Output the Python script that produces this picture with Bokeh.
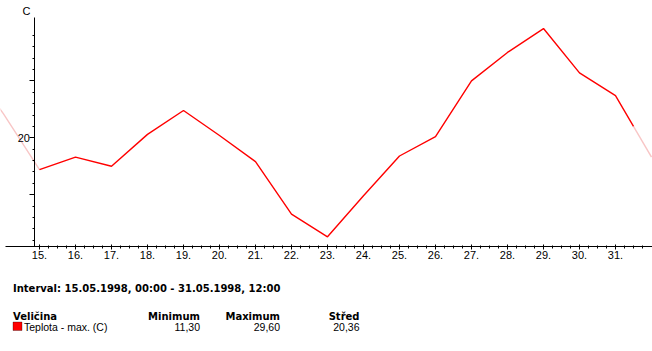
import numpy as np
from bokeh.plotting import figure
from bokeh.models import FixedTicker, LinearAxis, Range1d, Label, BoxAnnotation
from bokeh.embed import file_html
from bokeh.resources import INLINE

# ---- data (day of May 1998, daily maximum temperature in C) ----
days = [13, 14, 15, 16, 17, 18, 19, 20, 21, 22, 23, 24, 25, 26, 27, 28, 29, 30, 31, 32]
tmax = [26.5, 22.1, 17.2, 18.3, 17.5, 20.3, 22.4, 20.2, 17.9, 13.3, 11.3, 14.9,
        18.4, 20.1, 25.0, 27.5, 29.6, 25.7, 23.7, 18.3]
interval_start = 15.0   # 15.05.1998 00:00
interval_end = 31.5     # 31.05.1998 12:00

day_ticks = list(range(15, 32))
day_labels = {d: f"{d}." for d in day_ticks}
day_minor = [15 + 0.25 * i for i in range(68)]

temp_major = [15, 20, 25]
temp_labels = {15: "", 20: "20", 25: ""}
temp_minor = [t for t in range(11, 30) if t not in temp_major]

title_text = "Interval: 15.05.1998, 00:00 - 31.05.1998, 12:00"
col_headers = ["Veličina", "Minimum", "Maximum", "Střed"]
series_name = "Teplota - max. (C)"
stat_values = ["11,30", "29,60", "20,36"]
unit_label = "C"

# ---- figure ----
W, H = 652, 351
p = figure(width=W, height=H, x_range=Range1d(13.9167, 32.028), y_range=Range1d(1.22, 32.065),
           output_backend="svg", toolbar_location=None, x_axis_type=None, y_axis_type=None,
           min_border=0)
p.outline_line_color = None
p.background_fill_color = "white"
p.border_fill_color = "white"

d = np.array(days, dtype=float)
t = np.array(tmax, dtype=float)
t_end = float(np.interp(interval_end, d, t))
inside = (d >= interval_start) & (d <= interval_end)
before = d <= interval_start
after = d > interval_end

xs_in = list(d[inside]) + [interval_end]
ys_in = list(t[inside]) + [t_end]
xs_after = [interval_end] + list(d[after])
ys_after = [t_end] + list(t[after])

pink = "#F8C6C6"
p.line(list(d[before]), list(t[before]), line_color=pink, line_width=1.4)
p.line(xs_after, ys_after, line_color=pink, line_width=1.4)
p.line(xs_in, ys_in, line_color="#FF0000", line_width=1.4)

axis_font = "Liberation Sans"
x_axis_at = 10.448
y_axis_at = 14.875

xaxis = LinearAxis(ticker=FixedTicker(ticks=day_ticks, minor_ticks=day_minor),
                   fixed_location=x_axis_at, bounds=(14.056, 32.03),
                   major_label_overrides=day_labels)
xaxis.axis_line_color = "black"
xaxis.major_tick_line_color = "black"
xaxis.minor_tick_line_color = "black"
xaxis.major_tick_in = 2
xaxis.major_tick_out = 3
xaxis.minor_tick_in = 1
xaxis.minor_tick_out = 2
xaxis.major_label_standoff = 2
xaxis.major_label_text_font = axis_font
xaxis.major_label_text_font_size = "11px"
xaxis.major_label_text_color = "black"
p.add_layout(xaxis, "below")

yaxis = LinearAxis(ticker=FixedTicker(ticks=temp_major, minor_ticks=temp_minor),
                   fixed_location=y_axis_at, bounds=(x_axis_at, 30.57),
                   major_label_overrides=temp_labels)
yaxis.axis_line_color = "black"
yaxis.major_tick_line_color = "black"
yaxis.minor_tick_line_color = "black"
yaxis.major_tick_in = 0
yaxis.major_tick_out = 5
yaxis.minor_tick_in = 0
yaxis.minor_tick_out = 2
yaxis.major_label_standoff = 0
yaxis.major_label_text_font = axis_font
yaxis.major_label_text_font_size = "11px"
yaxis.major_label_text_color = "black"
p.add_layout(yaxis, "left")

p.add_layout(Label(x=26, y=H - 10.5, x_units="screen", y_units="screen", text=unit_label,
                   text_align="center", text_baseline="middle",
                   text_font=axis_font, text_font_size="11px", text_color="black"))

bold_font = "DejaVu Sans"
reg_font = "Liberation Sans"

p.add_layout(Label(x=12.5, y=H - 287.5, x_units="screen", y_units="screen", text=title_text,
                   text_align="left", text_baseline="middle", text_font=bold_font,
                   text_font_style="bold", text_font_size="10px", text_color="black"))

col_x = [12.5, 199.5, 279.5, 359]
for i, (hx, htxt) in enumerate(zip(col_x, col_headers)):
    p.add_layout(Label(x=hx, y=H - 316, x_units="screen", y_units="screen", text=htxt,
                       text_align="left" if i == 0 else "right", text_baseline="middle",
                       text_font=bold_font, text_font_style="bold", text_font_size="10px",
                       text_color="black"))

p.add_layout(BoxAnnotation(left=12.5, right=21.5, top=H - 321.5, bottom=H - 330,
                           left_units="screen", right_units="screen",
                           top_units="screen", bottom_units="screen",
                           fill_color="#FF0000", fill_alpha=1.0, line_color="black", line_width=1))
p.add_layout(Label(x=23.5, y=H - 326.3, x_units="screen", y_units="screen", text=series_name,
                   text_align="left", text_baseline="middle", text_font=reg_font,
                   text_font_size="10.5px", text_color="black"))
for vx, vtxt in zip(col_x[1:], stat_values):
    p.add_layout(Label(x=vx, y=H - 326.3, x_units="screen", y_units="screen", text=vtxt,
                       text_align="right", text_baseline="middle", text_font=reg_font,
                       text_font_size="10.5px", text_color="black"))

open("out.html", "w").write(file_html(p, INLINE))
